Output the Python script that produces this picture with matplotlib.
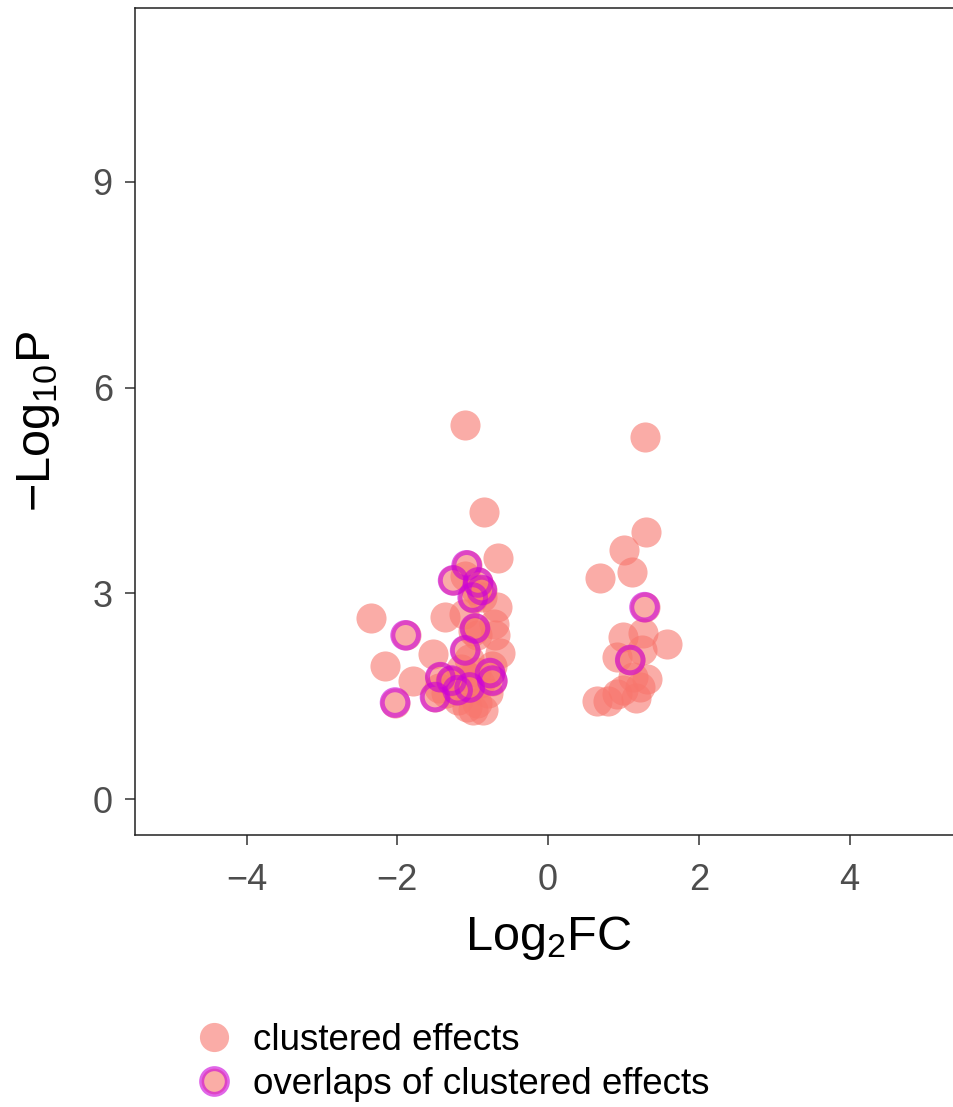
import numpy as np
import matplotlib.pyplot as plt
from matplotlib.lines import Line2D

plt.rcParams['font.family'] = ['Liberation Sans', 'DejaVu Sans']
plt.rcParams['mathtext.fontset'] = 'custom'
plt.rcParams['mathtext.rm'] = 'Liberation Sans'
plt.rcParams['mathtext.it'] = 'Liberation Sans'

# clustered effects (log2 fold change, -log10 p)
log2fc = [-1.10, -0.85, -0.66, -2.35, -2.16, -1.79, -1.37, -1.52, -0.68, -0.72,
          -0.64, -0.70, -0.94, -1.00, -1.12, -1.05, -1.15, -0.95, -1.30, -1.05,
          -1.35, -1.20, -1.08, -0.94, -0.86, -1.00, -0.80, -1.45, -0.90, -0.75,
          -1.10, -0.95, -0.87,
          1.29, 1.30, 1.01, 0.69, 1.12, 1.00, 1.26, 1.58, 1.25, 0.92,
          1.31, 1.13, 0.92, 0.65, 0.80, 1.16, 1.00, 1.22]
neglog10p = [5.45, 4.18, 3.51, 2.64, 1.95, 1.73, 2.66, 2.12, 2.80, 2.55,
             2.13, 2.40, 2.40, 2.46, 2.70, 2.05, 1.90, 1.85, 1.73, 1.78,
             1.55, 1.45, 1.34, 1.40, 1.30, 1.30, 1.55, 1.62, 1.70, 1.95,
             3.25, 3.05, 2.95,
             5.28, 3.89, 3.63, 3.22, 3.31, 2.36, 2.42, 2.27, 2.17, 2.07,
             1.76, 1.78, 1.54, 1.44, 1.44, 1.47, 1.59, 1.63]

# overlaps of clustered effects
overlap_fc = [-1.89, -2.03, -1.08, -1.26, -0.93, -0.88, -1.00, -0.97, -1.10,
              -1.43, -1.50, -1.28, -1.20, -1.04, -0.77, -0.74, 1.28, 1.09]
overlap_p = [2.39, 1.41, 3.41, 3.19, 3.16, 3.05, 2.94, 2.49, 2.17,
             1.78, 1.49, 1.73, 1.59, 1.63, 1.84, 1.73, 2.80, 2.03]

pink = '#F8766D'
ring = (0.80, 0.0, 0.85, 0.6)

fig = plt.figure(figsize=(9.54, 11.07), dpi=100)
ax = fig.add_axes([0.1415, 0.2457, 0.866, 0.747])

ax.scatter(log2fc + overlap_fc, neglog10p + overlap_p, s=470, color=pink,
           alpha=0.6, linewidths=0, zorder=2)
ax.scatter(overlap_fc, overlap_p, s=340, facecolors='none', edgecolors=[ring],
           linewidths=3.6, zorder=3)

ax.set_xlim(-5.48, 5.48)
ax.set_ylim(-0.52, 11.53)
ax.set_xticks([-4, -2, 0, 2, 4])
ax.set_yticks([0, 3, 6, 9])
ax.set_xticklabels(['\u22124', '\u22122', '0', '2', '4'])
ax.tick_params(labelsize=26, labelcolor='#4D4D4D', length=7, width=1.1,
               color='#333333')
ax.tick_params(axis='x', pad=13)
ax.tick_params(axis='y', pad=9)
for sp in ax.spines.values():
    sp.set_linewidth(1.1)
    sp.set_color('#222222')

ax.set_xlabel(r'Log$_2$FC', fontsize=35, labelpad=12)
ax.set_ylabel('\u2212Log$_{10}$P', fontsize=35, labelpad=22)

handles = [
    Line2D([], [], marker='o', linestyle='none', markersize=21,
           markerfacecolor=pink, markeredgewidth=0, alpha=0.6),
    Line2D([], [], marker='o', linestyle='none', markersize=18.5,
           markerfacecolor=(0.98, 0.68, 0.65), markeredgecolor=ring,
           markeredgewidth=3.6),
]
fig.legend(handles, ['clustered effects', 'overlaps of clustered effects'],
           loc='lower left', bbox_to_anchor=(0.19, -0.009), frameon=False,
           fontsize=26.5, handletextpad=0.55, labelspacing=0.25,
           borderaxespad=0, handlelength=1.0)

fig.savefig('out.png', dpi=100)
